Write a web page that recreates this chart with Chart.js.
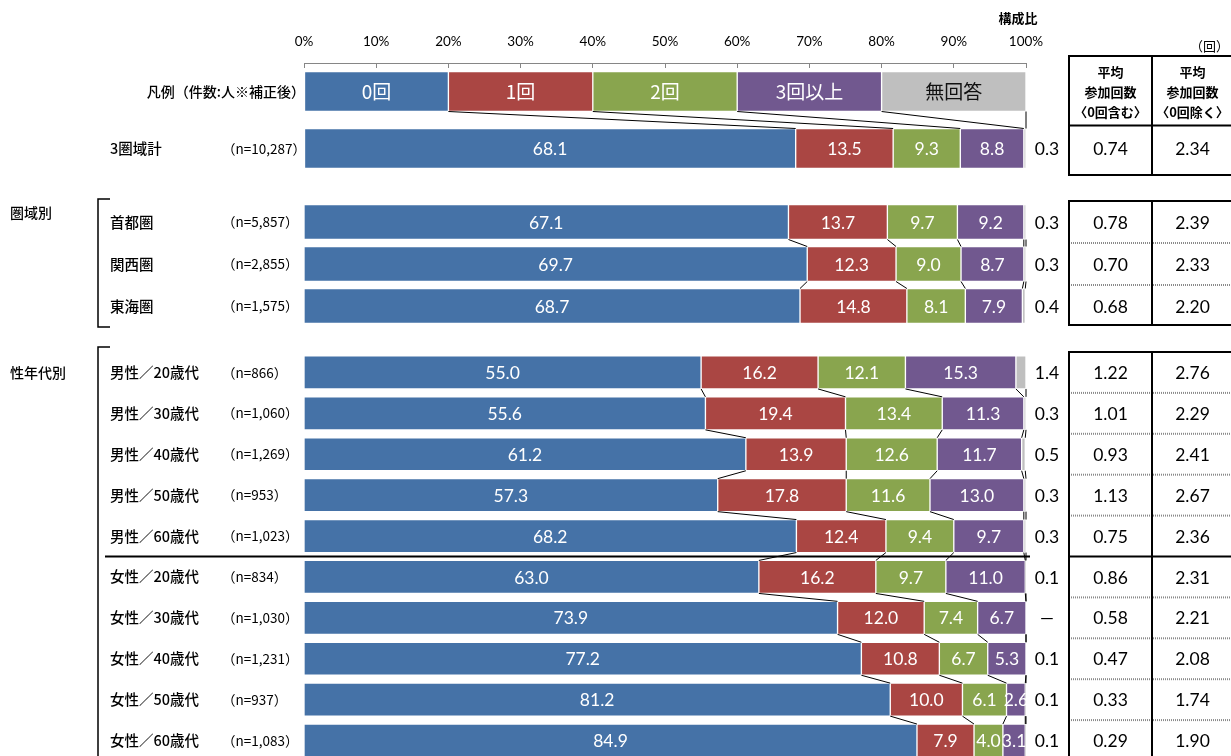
<!DOCTYPE html>
<html lang="ja">
<head>
<meta charset="utf-8">
<script src="https://cdn.jsdelivr.net/npm/chart.js@4.4.1/dist/chart.umd.min.js"></script>
<style>
html, body { margin: 0; padding: 0; background: #fff; }
#wrap { position: relative; width: 1231px; height: 756px; overflow: hidden; }
#wrap canvas { position: absolute; left: 0; }
</style>
</head>
<body>
<div id="wrap">
  <canvas id="cTotal" width="1231" height="177" style="top:0px"></canvas>
  <canvas id="cArea" width="1231" height="146" style="top:191px"></canvas>
  <canvas id="cSexAge" width="1231" height="432" style="top:340px"></canvas>
</div>
<script>
// data (構成比 %, 平均参加回数)
const seriesNames = ['0回', '1回', '2回', '3回以上', '無回答'];
const legendShares = [20, 20, 20, 20, 20];
const rowNames = ['3圏域計', '首都圏', '関西圏', '東海圏',
  '男性／20歳代', '男性／30歳代', '男性／40歳代', '男性／50歳代', '男性／60歳代',
  '女性／20歳代', '女性／30歳代', '女性／40歳代', '女性／50歳代', '女性／60歳代'];
const sampleSizes = ['10,287', '5,857', '2,855', '1,575',
  '866', '1,060', '1,269', '953', '1,023',
  '834', '1,030', '1,231', '937', '1,083'];
const zeroTimes = [68.1, 67.1, 69.7, 68.7, 55.0, 55.6, 61.2, 57.3, 68.2, 63.0, 73.9, 77.2, 81.2, 84.9];
const oneTime   = [13.5, 13.7, 12.3, 14.8, 16.2, 19.4, 13.9, 17.8, 12.4, 16.2, 12.0, 10.8, 10.0, 7.9];
const twoTimes  = [9.3, 9.7, 9.0, 8.1, 12.1, 13.4, 12.6, 11.6, 9.4, 9.7, 7.4, 6.7, 6.1, 4.0];
const threePlus = [8.8, 9.2, 8.7, 7.9, 15.3, 11.3, 11.7, 13.0, 9.7, 11.0, 6.7, 5.3, 2.6, 3.1];
const noAnswer  = [0.3, 0.3, 0.3, 0.4, 1.4, 0.3, 0.5, 0.3, 0.3, 0.1, null, 0.1, 0.1, 0.1];
const avgWithZero    = [0.74, 0.78, 0.70, 0.68, 1.22, 1.01, 0.93, 1.13, 0.75, 0.86, 0.58, 0.47, 0.33, 0.29];
const avgWithoutZero = [2.34, 2.39, 2.33, 2.20, 2.76, 2.29, 2.41, 2.67, 2.36, 2.31, 2.21, 2.08, 1.74, 1.90];

const series = [zeroTimes, oneTime, twoTimes, threePlus, noAnswer];
const palette = ['#4572A7', '#AA4643', '#89A54E', '#71588F', '#BFBFBF'];
const CJK = '"Noto Sans CJK JP", sans-serif';
const NUM = 'Lato, "Noto Sans", sans-serif';
const tableCols = [1069, 1152, 1233];

function boundary(row, k) {
  let s = 0;
  for (let j = 0; j <= k; j++) s += row === 'legend' ? legendShares[j] : (series[j][row] || 0);
  return Math.min(100, s);
}

function text(ctx, str, x, y, font, color, align) {
  ctx.font = font;
  ctx.fillStyle = color;
  ctx.textAlign = align || 'center';
  ctx.textBaseline = 'middle';
  ctx.fillText(str, x, y);
}

function hline(ctx, x1, x2, y, width, dotted) {
  ctx.save();
  ctx.lineWidth = width;
  ctx.strokeStyle = dotted ? '#8a8a8a' : '#000';
  if (dotted) ctx.setLineDash([1, 1]);
  ctx.beginPath(); ctx.moveTo(x1, y); ctx.lineTo(x2, y); ctx.stroke();
  ctx.restore();
}

function vline(ctx, x, y1, y2, width) {
  ctx.save();
  ctx.lineWidth = width;
  ctx.strokeStyle = '#000';
  ctx.beginPath(); ctx.moveTo(x, y1); ctx.lineTo(x, y2); ctx.stroke();
  ctx.restore();
}

function makeOverlay(cfg) {
  return {
    id: 'overlay',
    afterDraw(chart) {
      const ctx = chart.ctx, xs = chart.scales.x, area = chart.chartArea;
      const bars = chart.getDatasetMeta(0).data;
      const rows = cfg.rows;
      const step = (area.bottom - area.top) / rows.length;
      ctx.save();

      // connector lines between neighbouring bars
      ctx.strokeStyle = '#000';
      ctx.lineWidth = 1;
      for (let r = 0; r < rows.length - 1; r++) {
        const a = bars[r], b = bars[r + 1];
        for (let k = 0; k < series.length; k++) {
          ctx.beginPath();
          ctx.moveTo(xs.getPixelForValue(boundary(rows[r], k)), a.y + a.height / 2);
          ctx.lineTo(xs.getPixelForValue(boundary(rows[r + 1], k)), b.y - b.height / 2);
          ctx.stroke();
        }
      }

      // labels in and beside the bars, and on the left
      rows.forEach((row, r) => {
        const y = bars[r].y;
        if (row === 'legend') {
          for (let k = 0; k < series.length; k++) {
            const el = chart.getDatasetMeta(k).data[r];
            text(ctx, seriesNames[k], (el.x + el.base) / 2, y, '19px ' + CJK, k === 4 ? '#111' : '#fff');
          }
          text(ctx, '凡例（件数:人※補正後）', 305, y, '500 14px ' + CJK, '#000', 'right');
          return;
        }
        for (let k = 0; k < 4; k++) {
          const el = chart.getDatasetMeta(k).data[r];
          text(ctx, series[k][row].toFixed(1), (el.x + el.base) / 2, y + 1, '17.5px ' + NUM, '#fff');
        }
        const na = noAnswer[row];
        text(ctx, na === null ? '—' : na.toFixed(1), 1047, y + 1, '17.5px ' + NUM, '#000');
        text(ctx, rowNames[row], 110, y, '500 14.5px ' + CJK, '#000', 'left');
        text(ctx, '（n=' + sampleSizes[row] + '）', 222, y, '13.5px ' + CJK, '#000', 'left');
      });

      // table on the right
      const dataRows = rows.map((row, r) => ({ row, r })).filter(d => d.row !== 'legend');
      let top, bottom;
      if (cfg.header) {
        const first = bars[dataRows[0].r];
        top = area.top - 7;
        const split = first.y - first.height / 2 - 3;
        bottom = area.bottom - 2;
        const cx1 = (tableCols[0] + tableCols[1]) / 2, cx2 = (tableCols[1] + tableCols[2]) / 2;
        ['平均', '参加回数', '〈0回含む〉'].forEach((t, i) => text(ctx, t, cx1, 72 + i * 20, 'bold 13px ' + CJK, '#000'));
        ['平均', '参加回数', '〈0回除く〉'].forEach((t, i) => text(ctx, t, cx2, 72 + i * 20, 'bold 13px ' + CJK, '#000'));
        text(ctx, '（回）', 1229, 46, '13px ' + CJK, '#000', 'right');
        text(ctx, '構成比', 1018, 18, 'bold 13px ' + CJK, '#000');
        hline(ctx, tableCols[0], tableCols[2], split, 2, false);
        dataRows.forEach(d => {
          const y = bars[d.r].y + 1;
          text(ctx, avgWithZero[d.row].toFixed(2), (tableCols[0] + tableCols[1]) / 2, y, '17.5px ' + NUM, '#000');
          text(ctx, avgWithoutZero[d.row].toFixed(2), (tableCols[1] + tableCols[2]) / 2, y, '17.5px ' + NUM, '#000');
        });
      } else {
        top = bars[0].y - step / 2;
        bottom = area.bottom - 2;
        dataRows.forEach((d, i) => {
          const y = bars[d.r].y + 1;
          text(ctx, avgWithZero[d.row].toFixed(2), (tableCols[0] + tableCols[1]) / 2, y, '17.5px ' + NUM, '#000');
          text(ctx, avgWithoutZero[d.row].toFixed(2), (tableCols[1] + tableCols[2]) / 2, y, '17.5px ' + NUM, '#000');
          if (i < dataRows.length - 1) {
            const yd = (bars[d.r].y + bars[d.r + 1].y) / 2;
            const solid = cfg.separatorAfter === i;
            hline(ctx, tableCols[0], tableCols[2], yd, 2, !solid);
            if (solid) hline(ctx, 105, xs.getPixelForValue(100) + 4, yd, 2, false);
          }
        });
      }
      hline(ctx, tableCols[0] - 1, tableCols[2], top, 2, false);
      hline(ctx, tableCols[0] - 1, tableCols[2], bottom, 2, false);
      vline(ctx, tableCols[0], top, bottom, 2);
      vline(ctx, tableCols[1], top, bottom, 2);

      // group label and bracket
      if (cfg.group) {
        text(ctx, cfg.group, 10, area.top + cfg.groupDy, '500 14px ' + CJK, '#000', 'left');
        const bTop = area.top + cfg.bracketTop, bBot = Math.min(area.bottom, chart.height) + cfg.bracketBottom;
        ctx.lineWidth = 1.5;
        ctx.strokeStyle = '#000';
        ctx.beginPath();
        ctx.moveTo(110, bTop); ctx.lineTo(98, bTop); ctx.lineTo(98, bBot); ctx.lineTo(110, bBot);
        ctx.stroke();
      }
      ctx.restore();
    }
  };
}

function makeChart(id, cfg) {
  const labels = cfg.rows.map(r => r === 'legend' ? '凡例' : rowNames[r]);
  const datasets = series.map((vals, k) => ({
    label: seriesNames[k],
    data: cfg.rows.map(r => r === 'legend' ? legendShares[k] : vals[r]),
    backgroundColor: palette[k],
    borderColor: 'rgba(255,255,255,0.4)',
    borderWidth: 1,
    borderSkipped: false,
    barThickness: cfg.barThickness
  }));
  return new Chart(document.getElementById(id), {
    type: 'bar',
    data: { labels, datasets },
    options: {
      indexAxis: 'y',
      responsive: false,
      animation: false,
      devicePixelRatio: 1,
      layout: { padding: { left: 304, right: 205, top: cfg.padTop, bottom: cfg.padBottom } },
      scales: {
        x: {
          display: cfg.axis,
          position: 'top',
          stacked: true,
          min: 0,
          max: 100,
          afterFit: s => { s.height = cfg.axis ? 63 : 0; },
          grid: { drawOnChartArea: false, color: '#868686', tickLength: -5 },
          border: { display: true, color: '#868686' },
          ticks: {
            stepSize: 10,
            padding: 18,
            color: '#000',
            font: { family: 'Lato', size: 13.5 },
            callback: v => v + '%'
          }
        },
        y: { type: 'category', stacked: true, display: false }
      },
      plugins: { legend: { display: false }, tooltip: { enabled: false } }
    },
    plugins: [makeOverlay(cfg)]
  });
}

makeChart('cTotal', {
  rows: ['legend', 0], axis: true, header: true, barThickness: 40, padTop: 0, padBottom: 0
});
makeChart('cArea', {
  rows: [1, 2, 3], axis: false, barThickness: 35, padTop: 10, padBottom: 10,
  group: '圏域別', groupDy: 12, bracketTop: -2, bracketBottom: 0
});
makeChart('cSexAge', {
  rows: [4, 5, 6, 7, 8, 9, 10, 11, 12, 13], axis: false, barThickness: 33, padTop: 12, padBottom: 11,
  group: '性年代別', groupDy: 21, bracketTop: -5, bracketBottom: 20, separatorAfter: 4
});
</script>
</body>
</html>
